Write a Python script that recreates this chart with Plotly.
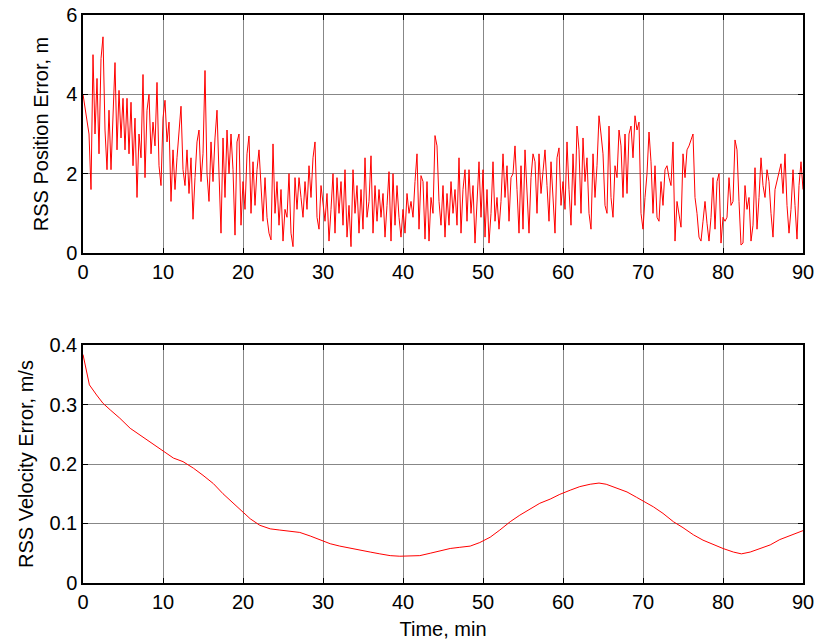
import numpy as np
import plotly.graph_objects as go
from plotly.subplots import make_subplots

# ---- data ----
SAMPLE_MIN = 0.25  # sampling interval of the position-error series, minutes

pos_err = [
    # 0 - 5 min
    4.0, 3.7, 3.3, 3.0, 1.6, 5.0, 3.0, 4.4, 2.5, 4.9, 5.45, 3.1, 2.1, 3.6, 2.1, 3.5, 4.8, 2.6, 4.1, 2.9, 3.9,
    # 5.25 - 15
    2.6, 3.9, 2.5, 3.8, 2.2, 3.4, 1.4, 3.0, 2.4, 4.5, 1.9, 3.6, 4.0, 2.5, 3.3, 2.7, 4.3, 2.2, 1.7, 3.4,
    3.85, 2.8, 3.3, 1.3, 2.6, 1.6, 2.4, 3.0, 3.7, 2.1, 1.7, 2.6, 1.5, 2.4, 0.85, 1.9, 2.8, 3.1, 1.8, 2.5,
    # 15.25 - 30
    4.6, 2.0, 1.3, 2.8, 1.8, 2.9, 3.6, 2.0, 0.5, 2.9, 1.4, 3.1, 2.0, 3.0, 2.1, 0.45, 2.8, 3.0, 0.7, 1.8,
    1.1, 2.5, 2.95, 1.0, 2.3, 1.2, 2.1, 2.6, 1.5, 0.8, 1.9, 0.9, 0.5, 0.33, 2.75, 1.0, 1.8, 0.7, 1.6, 0.3,
    1.1, 0.9, 2.0, 0.5, 0.16, 1.9, 1.1, 1.9, 1.4, 0.9, 1.8, 1.1, 2.2, 1.4, 2.4, 2.8, 0.9, 0.6, 1.7, 1.3,
    # 30.25 - 45
    0.8, 1.5, 0.3, 1.1, 2.0, 0.5, 1.9, 1.0, 1.8, 0.7, 2.1, 0.4, 1.2, 0.16, 2.1, 1.0, 1.7, 0.5, 1.6, 0.6,
    2.4, 0.9, 1.3, 2.45, 0.5, 1.7, 0.8, 1.6, 0.9, 1.5, 0.4, 1.2, 2.05, 0.3, 2.0, 0.7, 1.7, 0.9, 0.4, 1.1,
    0.5, 1.5, 1.0, 1.3, 0.9, 1.8, 2.5, 0.6, 1.95, 1.8, 0.35, 1.8, 0.3, 1.4, 1.0, 2.96, 2.7, 1.3, 0.7, 1.7,
    # 45.25 - 60
    0.4, 1.5, 0.7, 1.8, 1.0, 1.6, 0.7, 2.4, 0.5, 1.6, 2.1, 0.8, 2.1, 1.0, 1.7, 0.25, 1.5, 2.3, 0.9, 2.1,
    0.4, 1.6, 0.25, 1.0, 2.3, 0.8, 1.4, 0.6, 1.3, 2.5, 1.4, 2.2, 0.8, 1.9, 2.0, 2.7, 1.6, 0.5, 2.2, 0.6,
    2.6, 1.4, 0.5, 1.9, 2.5, 2.3, 1.0, 2.5, 1.5, 2.05, 2.6, 1.7, 0.8, 2.3, 1.3, 0.5, 2.4, 2.65, 1.2, 1.8,
    # 60.25 - 75
    1.1, 2.8, 1.6, 0.7, 2.5, 1.2, 3.2, 2.6, 1.0, 2.9, 1.8, 2.4, 1.0, 0.6, 2.5, 1.4, 2.2, 3.46, 3.0, 2.5,
    1.2, 1.0, 3.2, 1.4, 0.9, 2.2, 1.9, 3.1, 2.7, 1.4, 3.0, 1.5, 3.0, 3.2, 2.4, 3.46, 3.1, 3.3, 1.0, 0.6,
    1.4, 2.0, 3.05, 2.3, 1.0, 2.2, 0.9, 0.8, 1.8, 1.2, 2.1, 2.2, 1.9, 1.7, 2.8, 0.3, 1.3, 0.9, 0.65, 2.5,
    # 75.25 - 90
    1.9, 2.6, 2.7, 2.85, 3.0, 1.4, 1.0, 0.4, 0.3, 0.8, 1.3, 0.75, 0.3, 0.9, 1.9, 0.6, 1.8, 2.0, 0.25, 0.9,
    0.8, 0.9, 1.9, 1.2, 1.3, 2.85, 2.6, 1.3, 0.2, 0.25, 1.7, 1.1, 1.4, 0.3, 0.7, 2.15, 0.6, 1.4, 2.4, 1.7,
    1.4, 2.1, 1.8, 1.0, 0.4, 1.6, 1.8, 2.0, 2.25, 1.5, 2.5, 1.2, 0.5, 1.1, 2.1, 1.2, 0.35, 1.7, 2.3, 1.6,
]
pos_time = list(np.arange(len(pos_err)) * SAMPLE_MIN)

vel_time = [0, 0.8, 1.7, 2.5, 3.4, 4.6, 5.9, 7.1, 8.4, 9.9, 11.3, 12.5, 13.8, 15.0, 16.3, 17.5, 18.8,
            20.0, 20.9, 22.1, 23.4, 24.6, 25.9, 27.1, 28.4, 29.6, 30.9, 32.1, 33.4, 34.6, 35.9, 37.1,
            38.4, 39.6, 40.9, 42.1, 43.4, 44.6, 45.9, 47.1, 48.4, 49.6, 50.9, 52.1, 53.4, 54.6, 55.9,
            57.1, 58.4, 59.6, 60.9, 62.1, 63.4, 64.5, 65.4, 66.7, 68.0, 69.2, 70.0, 71.3, 72.5, 73.8,
            75.0, 76.3, 77.5, 78.8, 80.0, 81.3, 82.3, 83.4, 84.6, 85.9, 87.1, 88.4, 89.6, 90.0]
vel_err = [0.384, 0.333, 0.316, 0.302, 0.291, 0.277, 0.26, 0.249, 0.236, 0.223, 0.21, 0.204, 0.193,
           0.181, 0.167, 0.15, 0.134, 0.119, 0.108, 0.097, 0.091, 0.089, 0.087, 0.085, 0.079, 0.073,
           0.066, 0.062, 0.059, 0.056, 0.052, 0.049, 0.046, 0.045, 0.046, 0.046, 0.05, 0.054, 0.058,
           0.06, 0.062, 0.068, 0.077, 0.089, 0.103, 0.114, 0.125, 0.134, 0.141, 0.149, 0.156, 0.162,
           0.166, 0.168, 0.166, 0.16, 0.153, 0.144, 0.138, 0.128, 0.117, 0.103, 0.093, 0.081, 0.072,
           0.064, 0.058, 0.052, 0.049, 0.052, 0.058, 0.064, 0.073, 0.08, 0.086, 0.088]

x_ticks = [0, 10, 20, 30, 40, 50, 60, 70, 80, 90]
pos_ticks = [0, 2, 4, 6]
vel_ticks = [0, 0.1, 0.2, 0.3, 0.4]

# ---- figure ----
fig = make_subplots(rows=2, cols=1, vertical_spacing=0.162)
fig.add_trace(go.Scatter(x=pos_time, y=pos_err, mode="lines",
                         line=dict(color="#ff0000", width=1), showlegend=False), row=1, col=1)
fig.add_trace(go.Scatter(x=vel_time, y=vel_err, mode="lines",
                         line=dict(color="#ff0000", width=1), showlegend=False), row=2, col=1)

font = dict(family="Liberation Sans, Arial, sans-serif", size=20, color="black")
axis_common = dict(showline=True, linecolor="black", linewidth=1.5, mirror="ticks",
                   ticks="inside", ticklen=5, tickcolor="black", tickwidth=1,
                   showgrid=True, gridcolor="rgb(135,135,135)", gridwidth=1,
                   zeroline=False, tickfont=font, automargin=False)

fig.update_xaxes(range=[0, 90], tickvals=x_ticks, **axis_common)
fig.update_yaxes(**axis_common)
fig.update_yaxes(range=[0, 6], tickvals=pos_ticks, row=1, col=1,
                 title=dict(text="RSS Position Error, m", font=font, standoff=12))
fig.update_yaxes(range=[0, 0.4], tickvals=vel_ticks, row=2, col=1,
                 title=dict(text="RSS Velocity Error, m/s", font=font, standoff=10))
fig.update_xaxes(row=2, col=1, title=dict(text="Time, min", font=font, standoff=10))

fig.update_layout(width=819, height=643, margin=dict(l=83, r=16, t=15, b=60, autoexpand=False),
                  paper_bgcolor="white", plot_bgcolor="white", font=font)
fig.update_layout(yaxis=dict(domain=[0.581, 1.0]), yaxis2=dict(domain=[0.0, 0.419]))

fig.write_html("out.html")
